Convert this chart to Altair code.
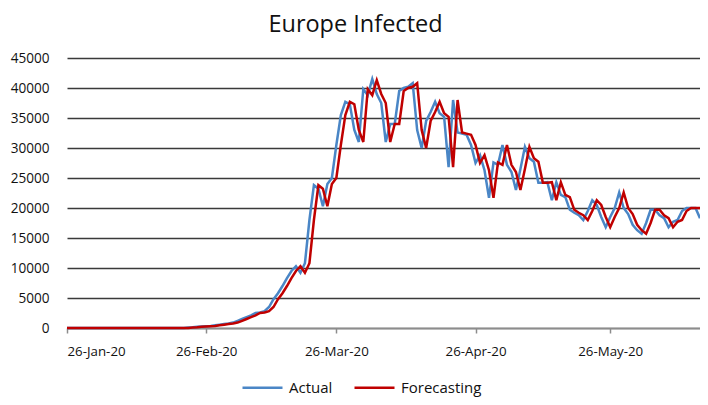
import altair as alt
import pandas as pd

start_date = "2020-01-26"

actual = [
    0, 0, 0, 0, 0, 0, 0, 0, 0, 0,
    0, 0, 0, 0, 0, 0, 0, 0, 0, 0,
    0, 0, 0, 0, 0, 0, 20, 80, 120, 200,
    250, 300, 350, 450, 550, 650, 750, 900, 1200, 1500,
    1800, 2100, 2500, 2600, 2800, 3500, 4800, 5800, 7000, 8300,
    9500, 10300, 9200, 10800, 18000, 23800, 23200, 20300, 24000, 25000,
    30500, 35500, 37700, 37300, 33000, 31000, 39800, 38800, 41500, 39000,
    37500, 31000, 34000, 34000, 39500, 40000, 40200, 40800, 33000, 30000,
    34500, 36000, 37700, 35800, 35200, 26800, 38000, 32600, 32400, 32200,
    30500, 27500, 28800, 26300, 21700, 27600, 27200, 30500, 27200, 26000,
    23000, 26500, 30200, 28300, 27700, 24200, 24200, 24300, 21300, 24300,
    22200, 21800, 19700, 19200, 18800, 18000, 19500, 21300, 20500, 18500,
    16800, 18500, 20000, 22600, 20000, 19000, 17200, 16300, 15700, 17500,
    19700, 19700, 18800, 18300, 16800, 17700, 18000, 19500, 20000, 20000,
    20000, 18300,
]

forecasting = [
    0, 0, 0, 0, 0, 0, 0, 0, 0, 0,
    0, 0, 0, 0, 0, 0, 0, 0, 0, 0,
    0, 0, 0, 0, 0, 0, 0, 20, 80, 120,
    200, 250, 300, 350, 450, 550, 650, 750, 900, 1200,
    1500, 1800, 2100, 2500, 2600, 2800, 3500, 4800, 5800, 7000,
    8300, 9500, 10300, 9200, 10800, 18000, 23800, 23200, 20300, 24000,
    25000, 30500, 35500, 37700, 37300, 33000, 31000, 39800, 38800, 41300,
    39000, 37500, 31000, 34000, 34000, 39500, 40000, 40200, 40800, 33000,
    30000, 34500, 36000, 37700, 35800, 35200, 26800, 38000, 32600, 32400,
    32200, 30500, 27500, 28800, 26300, 21700, 27600, 27200, 30500, 27200,
    26000, 23000, 26500, 30200, 28300, 27700, 24200, 24200, 24300, 21300,
    24300, 22200, 21800, 19700, 19200, 18800, 18000, 19500, 21300, 20500,
    18500, 16800, 18500, 20000, 22600, 20000, 19000, 17200, 16300, 15700,
    17500, 19700, 19700, 18800, 18300, 16800, 17700, 18000, 19500, 20000,
    20000, 20000,
]

series_names = ["Actual", "Forecasting"]
series_colors = ["#4a86c6", "#c00000"]
y_ticks = [0, 5000, 10000, 15000, 20000, 25000, 30000, 35000, 40000, 45000]
x_tick_days = [(1, 26), (2, 26), (3, 26), (4, 26), (5, 26)]

n = len(actual)
dates = pd.date_range(start_date, periods=n)
df = pd.DataFrame({
    "date": list(dates) + list(dates),
    "value": actual + forecasting,
    "series": [series_names[0]] * n + [series_names[1]] * n,
})

FONT = "Open Sans"
x_values = [alt.DateTime(year=2020, month=m, date=d) for m, d in x_tick_days]

chart = alt.Chart(df).mark_line(strokeWidth=2.5, interpolate="linear").encode(
    x=alt.X(
        "date:T",
        scale=alt.Scale(domain=[alt.DateTime(year=2020, month=1, date=26),
                                alt.DateTime(year=2020, month=6, date=15)]),
        axis=alt.Axis(
            values=x_values, format="%d-%b-%y", title=None, grid=False,
            labelFont=FONT, labelFontSize=13.3, labelColor="#111111",
            tickSize=5, tickColor="#8c8c8c", tickWidth=1.5,
            domainColor="#8c8c8c", domainWidth=1.5, labelPadding=11,
        ),
    ),
    y=alt.Y(
        "value:Q",
        scale=alt.Scale(domain=[0, 45000], nice=False),
        axis=alt.Axis(
            values=y_ticks, format="d", title=None, grid=True,
            gridColor="#3a3a3a", gridWidth=1.3, domain=False, ticks=False,
            labelFont=FONT, labelFontSize=13.6, labelColor="#111111",
            labelPadding=18,
        ),
    ),
    color=alt.Color(
        "series:N",
        scale=alt.Scale(domain=series_names, range=series_colors),
        legend=alt.Legend(
            title=None, orient="none", direction="horizontal",
            legendX=174, legendY=308, symbolType="stroke", symbolSize=1600,
            symbolStrokeWidth=2.5, labelFont=FONT, labelFontSize=15,
            labelColor="#111111", labelOffset=5, columnPadding=16,
        ),
    ),
).properties(
    width=633,
    height=270,
    title=alt.Title(
        "Europe Infected", font=FONT, fontSize=23.5, fontWeight="normal",
        color="#111111", anchor="middle", dx=-28, offset=0, dy=4,
        baseline="alphabetic",
    ),
    autosize="none",
    padding={"left": 59, "top": 50, "right": 0, "bottom": 69},
).configure_view(stroke=None)

chart.save("out.html", embed_options={"renderer": "svg", "actions": False})
